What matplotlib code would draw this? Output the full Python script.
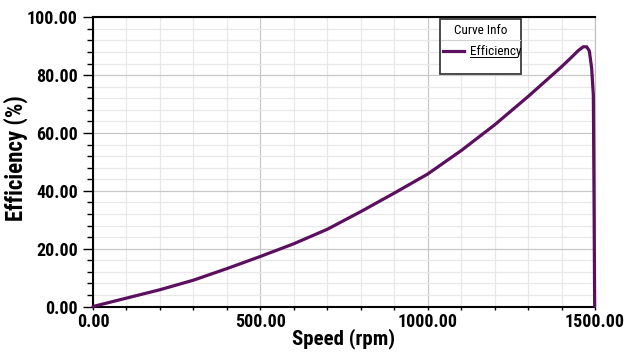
import matplotlib
matplotlib.use('Agg')
import numpy as np
import matplotlib.pyplot as plt
from matplotlib.ticker import MultipleLocator, FormatStrFormatter
from matplotlib.patches import Rectangle
from matplotlib.lines import Line2D

# efficiency curve vs shaft speed
speed = [0, 100, 200, 300, 400, 500, 600, 700, 800, 900, 1000, 1100,
         1200, 1300, 1400, 1430, 1450, 1465, 1475, 1483, 1490, 1495, 1497, 1499]
efficiency = [0.0, 2.9, 5.8, 9.1, 13.1, 17.3, 21.7, 26.7, 32.8, 39.2, 45.8, 53.9,
              62.8, 72.6, 82.9, 86.2, 88.5, 89.8, 89.8, 88.4, 82.4, 73.2, 40.0, 0.0]

xlabel = 'Speed (rpm)'
ylabel = 'Efficiency (%)'
legend_title = 'Curve Info'
series_name = 'Efficiency'

fnt = ['Roboto Condensed', 'Liberation Sans', 'DejaVu Sans']
curve_col = '#5c0f5e'

W, H = 626, 356
fig = plt.figure(figsize=(W / 100.0, H / 100.0), dpi=100)
ax = fig.add_axes([93.0 / W, 1 - 306.5 / H, 502.0 / W, 289.2 / H])

ax.plot(speed, efficiency, color=curve_col, lw=2.3, solid_capstyle='round',
        solid_joinstyle='round', zorder=5, clip_on=False)

ax.set_xlim(0, 1500)
ax.set_ylim(0, 100)

ax.xaxis.set_major_locator(MultipleLocator(500))
ax.xaxis.set_minor_locator(MultipleLocator(100))
ax.yaxis.set_major_locator(MultipleLocator(20))
ax.yaxis.set_minor_locator(MultipleLocator(4))
ax.xaxis.set_major_formatter(FormatStrFormatter('%.2f'))
ax.yaxis.set_major_formatter(FormatStrFormatter('%.2f'))

ax.grid(which='minor', color='#e8e8e8', lw=0.9)
ax.grid(which='major', color='#c8c8c8', lw=0.9)
ax.set_axisbelow(True)

ax.tick_params(axis='y', which='major', direction='out', length=7.5, width=1.0,
               pad=3.5, color='black')
ax.tick_params(axis='y', which='minor', direction='out', length=4, width=1.0,
               color='black')
ax.tick_params(axis='x', which='both', direction='out', length=2.5, width=1.0,
               pad=2.5, color='black')

for lab in ax.get_xticklabels() + ax.get_yticklabels():
    lab.set_family(fnt)
    lab.set_fontsize(13)
    lab.set_fontweight('bold')

ax.set_xlabel(xlabel, family=fnt, fontsize=15, fontweight='bold')
ax.set_ylabel(ylabel, family=fnt, fontsize=16.5, fontweight='bold')
ax.xaxis.set_label_coords(0.5, -0.075)
ax.yaxis.set_label_coords(-0.13, 0.512)

ax.spines['left'].set_linewidth(1.5)
ax.spines['bottom'].set_linewidth(1.5)
ax.spines['top'].set_linewidth(1.5)
ax.spines['right'].set_linewidth(0.8)
ax.spines['right'].set_color('#bdbdbd')

# legend box drawn in figure pixels
def px(x, y):
    return x / W, 1 - y / H

bx0, by0, bx1, by1 = 440, 19.5, 521, 73.5
fig.patches.append(Rectangle(px(bx0, by1), (bx1 - bx0) / W, (by1 - by0) / H,
                             transform=fig.transFigure, facecolor='white',
                             edgecolor='#3c3c3c', lw=1.3, zorder=10))
fig.lines.append(Line2D([px(bx0 + 1, 0)[0], px(bx1 - 1, 0)[0]],
                        [px(0, 39.5)[1]] * 2, transform=fig.transFigure,
                        color='#d0d0d0', lw=0.8, zorder=11))
fig.text(*px((bx0 + bx1) / 2.0, 30), legend_title, ha='center', va='center',
         family=fnt, fontsize=9.5, zorder=12)
fig.lines.append(Line2D([px(443, 0)[0], px(464, 0)[0]], [px(0, 51)[1]] * 2,
                        transform=fig.transFigure, color=curve_col, lw=2.3,
                        zorder=12))
fig.text(*px(470, 51), series_name, ha='left', va='center', family=fnt,
         fontsize=9.5, zorder=12)
fig.lines.append(Line2D([px(470, 0)[0], px(517, 0)[0]], [px(0, 57)[1]] * 2,
                        transform=fig.transFigure, color='black', lw=0.7,
                        zorder=12))

plt.savefig('out.png', dpi=100)
